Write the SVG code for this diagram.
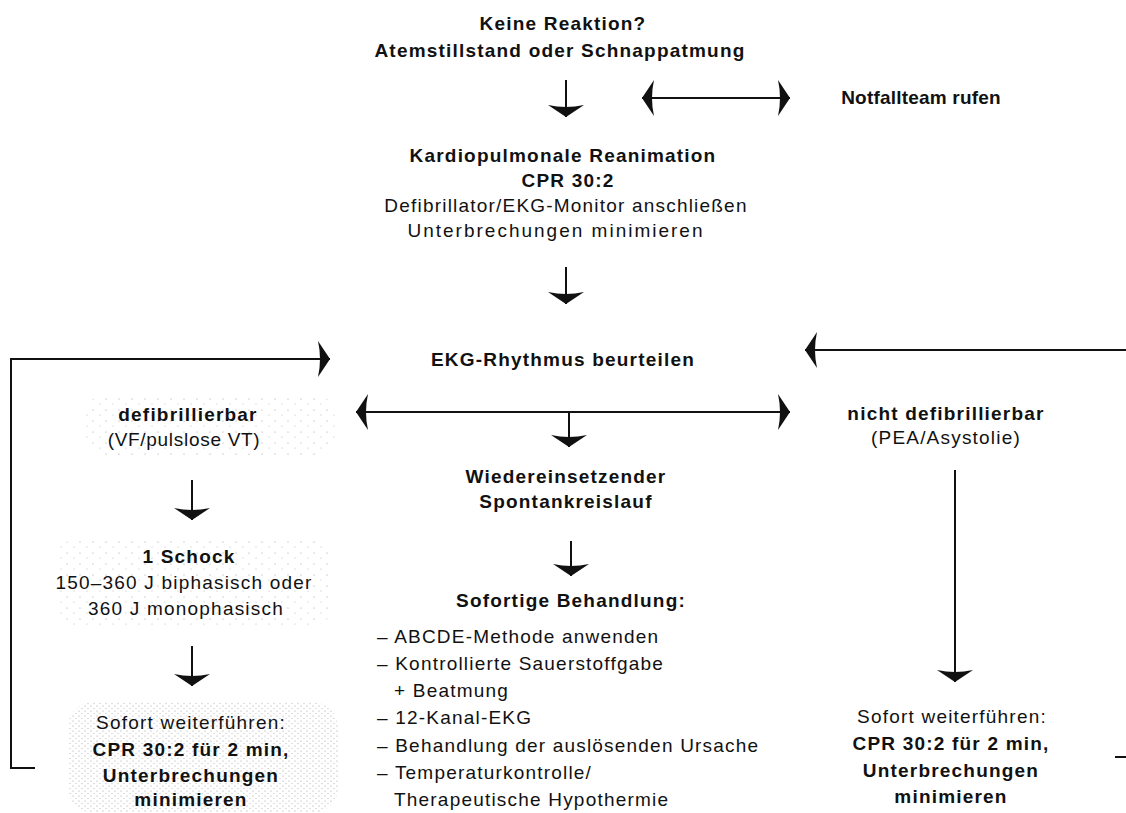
<svg xmlns="http://www.w3.org/2000/svg" width="1126" height="813" viewBox="0 0 1126 813">
<style>
text{font-family:"Liberation Sans",Arial,sans-serif;font-size:19px;fill:#111;letter-spacing:1.2px;text-anchor:middle}
.b{font-weight:bold}
.l{text-anchor:start}
.c{fill:none;stroke:#111;stroke-width:2}
.a{marker-end:url(#h)}
.d{marker-start:url(#h);marker-end:url(#h)}
</style>
<defs>
<marker id="h" viewBox="0 0 12 36" refX="12" refY="18" markerWidth="12" markerHeight="36" markerUnits="userSpaceOnUse" orient="auto-start-reverse">
<path d="M0,0 Q4,18 0,36 L12,18 Z" fill="#111"/>
</marker>
<pattern id="sp" width="13" height="11" patternUnits="userSpaceOnUse">
<circle cx="2" cy="3" r="0.55" fill="#999"/><circle cx="9" cy="8" r="0.5" fill="#aaa"/>
</pattern>
<pattern id="sp2" width="6" height="5" patternUnits="userSpaceOnUse">
<circle cx="1" cy="1" r="0.55" fill="#999"/><circle cx="4" cy="3.5" r="0.5" fill="#aaa"/>
</pattern>
</defs>
<rect width="1126" height="813" fill="#fff"/>
<g id="shading">
<rect x="85" y="395" width="250" height="62" rx="20" fill="url(#sp)"/>
<rect x="55" y="540" width="278" height="85" rx="20" fill="url(#sp)"/>
<rect x="68" y="702" width="270" height="111" rx="25" fill="url(#sp2)"/>
</g>
<g id="connectors">
<path class="c a" d="M566,80 V117"/>
<path class="c d" d="M642,98 H790"/>
<path class="c a" d="M566,267 V304"/>
<path class="c a" d="M35,768 H11 V359 H330"/>
<path class="c a" d="M1126,350 H805"/>
<path class="c" d="M1126,757 H1115"/>
<path class="c d" d="M356,412 H790"/>
<path class="c a" d="M569,412 V447"/>
<path class="c a" d="M571,541 V576"/>
<path class="c a" d="M192,480 V520"/>
<path class="c a" d="M192,646 V686"/>
<path class="c a" d="M955,470 V682"/>
</g>
<g id="n-start">
<text class="b" x="563" y="30">Keine Reaktion?</text>
<text class="b" x="560" y="57">Atemstillstand oder Schnappatmung</text>
</g>
<g id="n-notfall">
<text class="b" x="921" y="104" style="letter-spacing:0.2px">Notfallteam rufen</text>
</g>
<g id="n-cpr">
<text class="b" x="563" y="162">Kardiopulmonale Reanimation</text>
<text class="b" x="568" y="187">CPR 30:2</text>
<text x="566" y="212">Defibrillator/EKG-Monitor anschließen</text>
<text x="556" y="237" style="letter-spacing:2px">Unterbrechungen minimieren</text>
</g>
<g id="n-ekg">
<text class="b" x="563" y="366">EKG-Rhythmus beurteilen</text>
</g>
<g id="n-defib">
<text class="b" x="188" y="421">defibrillierbar</text>
<text x="184" y="446" style="letter-spacing:0.7px">(VF/pulslose VT)</text>
</g>
<g id="n-nondefib">
<text class="b" x="946" y="420">nicht defibrillierbar</text>
<text x="946" y="444">(PEA/Asystolie)</text>
</g>
<g id="n-rosc">
<text class="b" x="566" y="483">Wiedereinsetzender</text>
<text class="b" x="566" y="508">Spontankreislauf</text>
</g>
<g id="n-shock">
<text class="b" x="189" y="563">1 Schock</text>
<text x="184" y="589">150–360 J biphasisch oder</text>
<text x="186" y="615">360 J monophasisch</text>
</g>
<g id="n-cont-left">
<text x="191" y="729">Sofort weiterführen:</text>
<text class="b" x="191" y="756">CPR 30:2 für 2 min,</text>
<text class="b" x="191" y="782">Unterbrechungen</text>
<text class="b" x="191" y="806">minimieren</text>
</g>
<g id="n-treatment">
<text class="b" x="571" y="607">Sofortige Behandlung:</text>
<text class="l" x="377" y="643">– ABCDE-Methode anwenden</text>
<text class="l" x="377" y="670">– Kontrollierte Sauerstoffgabe</text>
<text class="l" x="394" y="697">+ Beatmung</text>
<text class="l" x="377" y="724">– 12-Kanal-EKG</text>
<text class="l" x="377" y="752">– Behandlung der auslösenden Ursache</text>
<text class="l" x="377" y="779">– Temperaturkontrolle/</text>
<text class="l" x="394" y="806">Therapeutische Hypothermie</text>
</g>
<g id="n-cont-right">
<text x="952" y="723">Sofort weiterführen:</text>
<text class="b" x="951" y="750">CPR 30:2 für 2 min,</text>
<text class="b" x="951" y="777">Unterbrechungen</text>
<text class="b" x="951" y="803">minimieren</text>
</g>
</svg>
